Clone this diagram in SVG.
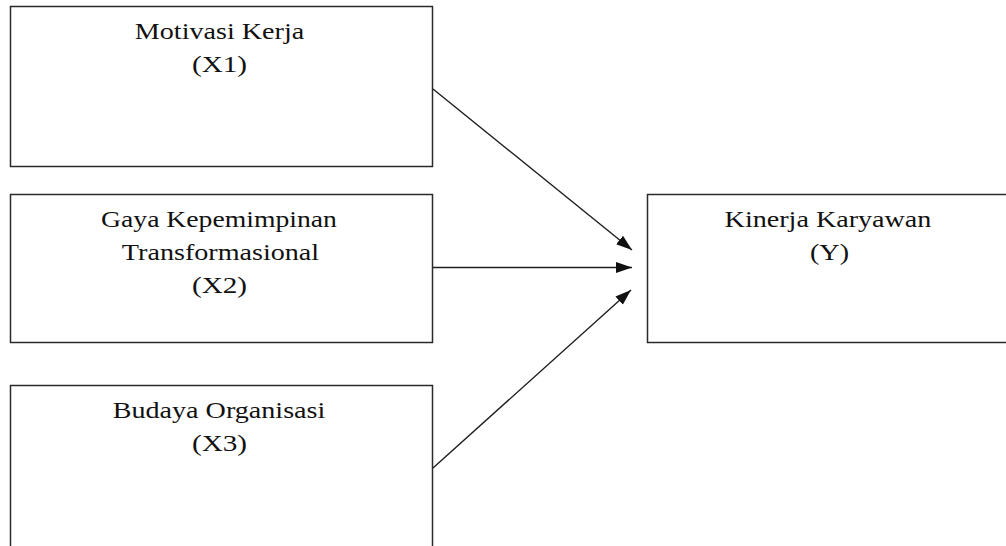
<svg xmlns="http://www.w3.org/2000/svg" width="1006" height="546" viewBox="0 0 1006 546">
<style>
.box{fill:#fff;stroke:#2a2a2a;stroke-width:1.5}
.lbl{font-family:"Liberation Serif","Times New Roman",serif;font-size:22.5px;fill:#111;text-anchor:middle}
.conn{stroke:#1e1e1e;stroke-width:1.4;fill:none;marker-end:url(#ah)}
</style>
<defs>
<marker id="ah" markerUnits="userSpaceOnUse" markerWidth="16" markerHeight="12" refX="16" refY="5.5" orient="auto" viewBox="0 0 16 11">
<path d="M0,0 L16,5.5 L0,11 Z" fill="#111"/>
</marker>
</defs>
<rect width="1006" height="546" fill="#fff"/>
<g id="x1">
<rect class="box" x="10.5" y="6.5" width="422" height="160"/>
<text class="lbl" transform="translate(219.5,39) scale(1.25,1)">Motivasi Kerja</text>
<text class="lbl" transform="translate(219.5,72) scale(1.3,1)">(X1)</text>
</g>
<g id="x2">
<rect class="box" x="10.5" y="194.5" width="422" height="148"/>
<text class="lbl" transform="translate(219,227) scale(1.23,1)">Gaya Kepemimpinan</text>
<text class="lbl" transform="translate(220.5,260) scale(1.25,1)">Transformasional</text>
<text class="lbl" transform="translate(219.5,293) scale(1.3,1)">(X2)</text>
</g>
<g id="x3">
<rect class="box" x="10.5" y="385.5" width="422" height="180"/>
<text class="lbl" transform="translate(219,418) scale(1.25,1)">Budaya Organisasi</text>
<text class="lbl" transform="translate(219.5,451) scale(1.3,1)">(X3)</text>
</g>
<g id="y">
<rect class="box" x="647.5" y="194.5" width="380" height="148"/>
<text class="lbl" transform="translate(828,227) scale(1.25,1)">Kinerja Karyawan</text>
<text class="lbl" transform="translate(829.5,260) scale(1.25,1)">(Y)</text>
</g>
<g id="connectors">
<line class="conn" x1="433" y1="89" x2="632" y2="250"/>
<line class="conn" x1="433" y1="267.5" x2="632" y2="267.5"/>
<line class="conn" x1="433" y1="468" x2="631" y2="290"/>
</g>
</svg>
